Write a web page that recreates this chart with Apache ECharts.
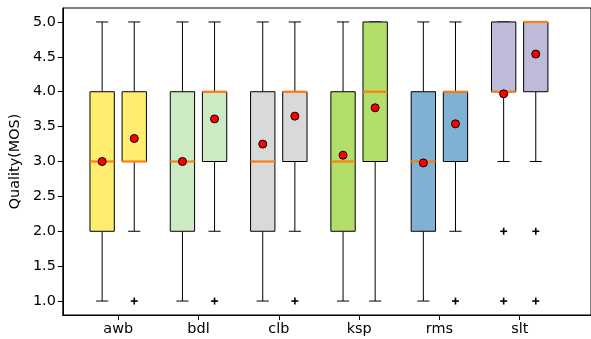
<!DOCTYPE html>
<html>
<head>
<meta charset="utf-8">
<script src="https://cdn.jsdelivr.net/npm/echarts@6/dist/echarts.min.js"></script>
<style>html,body{margin:0;padding:0;background:#fff;}#c{width:591px;height:339px;}</style>
</head>
<body>
<div id="c"></div>
<script>
const categories = ['awb', 'bdl', 'clb', 'ksp', 'rms', 'slt'];
// each box: [lowWhisker, q1, median, q3, highWhisker]
const boxesA = [[1,2,3,4,5],[1,2,3,4,5],[1,2,3,4,5],[1,2,3,4,5],[1,2,3,4,5],[3,4,4,5,5]];
const boxesB = [[2,3,3,4,5],[2,3,4,4,5],[2,3,4,4,5],[1,3,4,5,5],[2,3,4,4,5],[3,4,5,5,5]];
const meansA = [3.00, 3.00, 3.25, 3.09, 2.98, 3.97];
const meansB = [3.33, 3.61, 3.65, 3.77, 3.54, 4.54];
const outliersA = [[], [], [], [], [], [2, 1]];
const outliersB = [[1], [1], [1], [], [1], [2, 1]];
const yTicks = [1.0, 1.5, 2.0, 2.5, 3.0, 3.5, 4.0, 4.5, 5.0];
const colors = ['#ffed6f', '#ccebc5', '#d9d9d9', '#b3de69', '#80b1d3', '#bebada'];

const OFF = 0.2, BW = 0.303;
const boxData = [], meanData = [], outData = [];
categories.forEach((c, i) => {
  const p = i + 1;
  [[boxesA, meansA, outliersA, -OFF], [boxesB, meansB, outliersB, OFF]].forEach(([b, m, o, off]) => {
    const bx = b[i];
    boxData.push([p + off, bx[0], bx[1], bx[2], bx[3], bx[4], i]);
    meanData.push([p + off, m[i]]);
    o[i].forEach(v => outData.push([p + off, v]));
  });
});

function renderBox(params, api) {
  const x = api.value(0);
  const lo = api.coord([x, api.value(1)]);
  const q1 = api.coord([x, api.value(2)]);
  const md = api.coord([x, api.value(3)]);
  const q3 = api.coord([x, api.value(4)]);
  const hi = api.coord([x, api.value(5)]);
  const w = api.size([BW, 0])[0];
  const cx = lo[0];
  const color = colors[api.value(6)];
  const ln = {stroke: '#000', lineWidth: 1};
  const children = [];
  if (api.value(1) < api.value(2)) {
    children.push({type: 'line', shape: {x1: cx, y1: q1[1], x2: cx, y2: lo[1]}, style: ln});
  }
  children.push({type: 'line', shape: {x1: cx - w / 4, y1: lo[1], x2: cx + w / 4, y2: lo[1]}, style: ln});
  if (api.value(5) > api.value(4)) {
    children.push({type: 'line', shape: {x1: cx, y1: q3[1], x2: cx, y2: hi[1]}, style: ln});
  }
  children.push({type: 'line', shape: {x1: cx - w / 4, y1: hi[1], x2: cx + w / 4, y2: hi[1]}, style: ln});
  children.push({type: 'rect', shape: {x: cx - w / 2, y: q3[1], width: w, height: q1[1] - q3[1]},
    style: {fill: color, stroke: '#000', lineWidth: 1}});
  children.push({type: 'line', shape: {x1: cx - w / 2, y1: md[1], x2: cx + w / 2, y2: md[1]},
    style: {stroke: '#ff7f0e', lineWidth: 2.2}});
  return {type: 'group', children};
}

function renderPlus(params, api) {
  const p = api.coord([api.value(0), api.value(1)]);
  const s = 3.5;
  const st = {stroke: '#000', lineWidth: 1.6};
  return {type: 'group', children: [
    {type: 'line', shape: {x1: p[0] - s, y1: p[1], x2: p[0] + s, y2: p[1]}, style: st},
    {type: 'line', shape: {x1: p[0], y1: p[1] - s, x2: p[0], y2: p[1] + s}, style: st}
  ]};
}

const chart = echarts.init(document.getElementById('c'), null, {renderer: 'canvas'});
chart.setOption({
  animation: false,
  backgroundColor: '#fff',
  grid: {left: 59, right: -10, top: 8, bottom: 24, show: true, borderColor: '#000', borderWidth: 1, containLabel: false},
  xAxis: {
    type: 'value', min: 0.31, max: 0.31 + 542 / 82.4,
    splitLine: {show: false},
    axisLine: {show: true, lineStyle: {color: '#000'}},
    axisTick: {show: true, customValues: [1, 2, 3, 4, 5, 6], length: 5, lineStyle: {color: '#000'}},
    axisLabel: {customValues: [1, 2, 3, 4, 5, 6], formatter: v => categories[Math.round(v) - 1] || '',
      color: '#000', fontSize: 14.4, fontFamily: 'DejaVu Sans', margin: 7}
  },
  yAxis: {
    type: 'value', min: 0.8, max: 5.2,
    name: 'Quality(MOS)', nameLocation: 'middle', nameGap: 33,
    nameTextStyle: {color: '#000', fontSize: 14.4, fontFamily: 'DejaVu Sans'},
    splitLine: {show: false},
    axisLine: {show: true, lineStyle: {color: '#000'}},
    axisTick: {show: true, customValues: yTicks, length: 5, lineStyle: {color: '#000'}},
    axisLabel: {customValues: yTicks, formatter: v => v.toFixed(1),
      color: '#000', fontSize: 14.4, fontFamily: 'DejaVu Sans', margin: 7}
  },
  series: [
    {type: 'custom', renderItem: renderBox, data: boxData, z: 2,
     encode: {x: 0, y: [1, 5]}},
    {type: 'scatter', data: meanData, symbol: 'circle', symbolSize: 8, z: 3,
     itemStyle: {color: '#ff0000', borderColor: '#000', borderWidth: 1, opacity: 1}},
    {type: 'custom', renderItem: renderPlus, data: outData, z: 3, encode: {x: 0, y: 1}}
  ]
});
</script>
</body>
</html>
